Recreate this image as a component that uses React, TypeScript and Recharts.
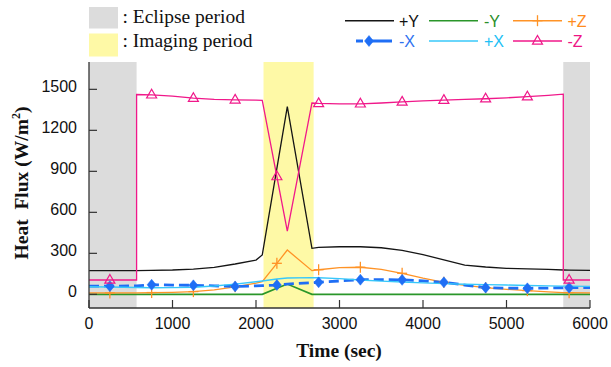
import React from 'react';
import { LineChart, Line, XAxis, YAxis, ReferenceArea } from 'recharts';

// ---------- data ----------
const time = [0, 250, 570, 570, 750, 1000, 1250, 1500, 1750, 2000, 2075, 2250, 2375, 2670, 2750, 3000, 3250, 3500, 3750, 4000, 4250, 4500, 4750, 5000, 5250, 5500, 5680, 5680, 5750, 6000];
const plusY = [173, 173, 173, 173, 175, 178, 185, 198, 222, 251, 288, 921, 1373, 337, 343, 348, 348, 341, 322, 290, 252, 214, 200, 190, 186, 182, 178, 178, 177, 175];
const minusY = [0, 0, 0, 0, 0, 0, 0, 0, 0, 0, 0, 44, 75, 0, 0, 0, 0, 0, 0, 0, 0, 0, 0, 0, 0, 0, 0, 0, 0, 0];
const plusZ = [10, 10, 11, 11, 13, 15, 20, 32, 55, 82, 92, 227, 324, 173, 180, 196, 198, 182, 154, 118, 88, 65, 49, 37, 27, 18, 13, 13, 12, 10];
const minusX = [60, 60, 62, 62, 70, 68, 66, 62, 58, 62, 64, 68, 75, 85, 88, 98, 107, 108, 106, 98, 88, 68, 49, 45, 44, 46, 48, 48, 49, 50];
const plusX = [55, 54, 50, 50, 48, 49, 52, 61, 75, 92, 98, 112, 120, 122, 121, 115, 105, 97, 90, 84, 78, 74, 71, 68, 65, 62, 60, 60, 60, 58];
const minusZ = [105, 105, 105, 1462, 1460, 1450, 1435, 1427, 1423, 1421, 1420, 862, 463, 1400, 1397, 1394, 1394, 1400, 1408, 1415, 1421, 1426, 1431, 1438, 1446, 1456, 1465, 105, 105, 105];

const markerTimes = [250, 750, 1250, 1750, 2250, 2750, 3250, 3750, 4250, 4750, 5250, 5750];
const xTicks = [0, 1000, 2000, 3000, 4000, 5000, 6000];
const yTicks = [0, 300, 600, 900, 1200, 1500];
const eclipsePeriods = [[0, 570], [5680, 6000]];
const imagingPeriod = [2090, 2690];

const data = time.map((t, i) => ({
  time: t,
  plusY: plusY[i],
  minusY: minusY[i],
  plusZ: plusZ[i],
  minusX: minusX[i],
  plusX: plusX[i],
  minusZ: minusZ[i],
}));

type Kind = 'plus' | 'diamond' | 'triangle' | null;

const series: { key: string; name: string; color: string; textColor: string; width: number; dash?: string; marker: Kind; row: number; col: number }[] = [
  { key: 'plusY', name: '+Y', color: '#151515', textColor: '#111111', width: 1.3, marker: null, row: 0, col: 0 },
  { key: 'minusY', name: '-Y', color: '#2a962a', textColor: '#2a8f2a', width: 1.7, marker: null, row: 0, col: 1 },
  { key: 'plusZ', name: '+Z', color: '#ff9326', textColor: '#ff8c1e', width: 1.3, marker: 'plus', row: 0, col: 2 },
  { key: 'minusX', name: '-X', color: '#1f6ef5', textColor: '#2f72f0', width: 2.8, dash: '10 5', marker: 'diamond', row: 1, col: 0 },
  { key: 'plusX', name: '+X', color: '#38c8fa', textColor: '#22c0f5', width: 1.4, marker: null, row: 1, col: 1 },
  { key: 'minusZ', name: '-Z', color: '#f0188a', textColor: '#ee1585', width: 1.3, marker: 'triangle', row: 1, col: 2 },
];

const SANS = "'Liberation Sans', Arial, sans-serif";
const SERIF = "'Liberation Serif', 'Times New Roman', serif";
const FRAME = '#333333';

function MarkerShape({ kind, cx, cy, color }: { kind: Kind; cx: number; cy: number; color: string }) {
  if (kind === 'plus') {
    return (
      <g>
        <line x1={cx - 5} y1={cy} x2={cx + 5} y2={cy} stroke={color} strokeWidth={1.3} />
        <line x1={cx} y1={cy - 5.5} x2={cx} y2={cy + 5.5} stroke={color} strokeWidth={1.3} />
      </g>
    );
  }
  if (kind === 'diamond') {
    return <polygon points={`${cx},${cy - 5.5} ${cx + 4.5},${cy} ${cx},${cy + 5.5} ${cx - 4.5},${cy}`} fill={color} stroke={color} strokeWidth={0.5} />;
  }
  if (kind === 'triangle') {
    return <polygon points={`${cx},${cy - 5.5} ${cx + 5},${cy + 3.2} ${cx - 5},${cy + 3.2}`} fill="none" stroke={color} strokeWidth={1.2} />;
  }
  return <g />;
}

function makeDot(kind: Kind, color: string) {
  return (props: any) => {
    const { cx, cy, payload, index } = props;
    if (!kind || !payload || !markerTimes.includes(payload.time) || cx == null || cy == null) {
      return <g key={`d-${index}`} />;
    }
    return (
      <g key={`d-${index}`}>
        <MarkerShape kind={kind} cx={cx} cy={cy} color={color} />
      </g>
    );
  };
}

const XTick = (props: any) => {
  const { x, y, payload } = props;
  return (
    <text x={x} y={y + 28.5} textAnchor="middle" fontFamily={SANS} fontSize={16} fill="#111">
      {payload.value}
    </text>
  );
};

const YTick = (props: any) => {
  const { x, y, payload } = props;
  return (
    <text x={x - 20} y={y + 3} textAnchor="end" fontFamily={SANS} fontSize={16} fill="#111">
      {payload.value}
    </text>
  );
};

const NoTick = () => <g />;

const legendLineStart = [345, 429, 513];
const legendLineEnd = [394, 478, 562];
const legendTextX = [399, 484, 567.5];
const legendRowY = [20.7, 41];

function Overlay() {
  return (
    <svg width={611} height={367} style={{ position: 'absolute', left: 0, top: 0, pointerEvents: 'none' }}>
      {/* period legend */}
      <rect x={89} y={7} width={29} height={21.5} fill="#dcdcdc" />
      <text x={122.5} y={23} fontFamily={SERIF} fontSize={19.5} fill="#111">: Eclipse period</text>
      <rect x={89} y={33.5} width={29} height={23} fill="#fef9a6" />
      <text x={122.5} y={46.5} fontFamily={SERIF} fontSize={19.5} fill="#111">: Imaging period</text>

      {/* series legend */}
      {series.map((s) => {
        const y = legendRowY[s.row];
        const x1 = s.key === 'minusX' ? 356 : legendLineStart[s.col];
        const x2 = s.key === 'minusX' ? 392 : legendLineEnd[s.col];
        const mx = s.key === 'minusX' ? 369 : (x1 + x2) / 2;
        return (
          <g key={s.key}>
            <line x1={x1} y1={y} x2={x2} y2={y} stroke={s.color} strokeWidth={s.key === 'minusX' ? 2.8 : 1.4}
              strokeDasharray={s.key === 'minusX' ? '7 4 40' : undefined} />
            {s.marker && <MarkerShape kind={s.marker} cx={mx} cy={y} color={s.color} />}
            <text x={legendTextX[s.col]} y={y + 6} fontFamily={SANS} fontSize={16} fill={s.textColor}>{s.name}</text>
          </g>
        );
      })}

      {/* axis titles */}
      <text x={339} y={357} textAnchor="middle" fontFamily={SERIF} fontWeight="bold" fontSize={19.5} fill="#111">Time (sec)</text>
      <text transform="translate(27.5,183) rotate(-90)" textAnchor="middle" fontFamily={SERIF} fontWeight="bold" fontSize={19.5} fill="#111" style={{ whiteSpace: 'pre' }}>
        {'Heat  Flux (W/m'}
        <tspan fontSize={12} dy={-8}>2</tspan>
        <tspan dy={8}>)</tspan>
      </text>
    </svg>
  );
}

export default function App() {
  return (
    <div style={{ position: 'absolute', left: 0, top: 0, width: 611, height: 367, background: '#fff' }}>
      <LineChart width={611} height={367} data={data} margin={{ top: 62, right: 21, bottom: 29, left: 0 }}>
        {eclipsePeriods.map(([a, b], i) => (
          <ReferenceArea key={`ecl-${i}`} x1={a} x2={b} fill="#dcdcdc" fillOpacity={1} stroke="none" ifOverflow="hidden" />
        ))}
        <ReferenceArea x1={imagingPeriod[0]} x2={imagingPeriod[1]} fill="#fef9a6" fillOpacity={1} stroke="none" ifOverflow="hidden" />
        <XAxis dataKey="time" type="number" domain={[0, 6000]} ticks={xTicks} height={30} tickSize={-8} tickMargin={0}
          axisLine={{ stroke: FRAME, strokeWidth: 1.3 }} tickLine={{ stroke: FRAME, strokeWidth: 1.2 }} tick={XTick} interval={0} allowDataOverflow />
        <XAxis xAxisId="top" orientation="top" dataKey="time" type="number" domain={[0, 6000]} ticks={xTicks} height={0} tickSize={-8}
          axisLine={{ stroke: FRAME, strokeWidth: 1.3 }} tickLine={{ stroke: FRAME, strokeWidth: 1.2 }} tick={NoTick} interval={0} allowDataOverflow />
        <YAxis type="number" domain={[-100, 1700]} ticks={yTicks} width={89} tickSize={-8} tickMargin={0}
          axisLine={{ stroke: FRAME, strokeWidth: 1.3 }} tickLine={{ stroke: FRAME, strokeWidth: 1.2 }} tick={YTick} interval={0} allowDataOverflow />
        <YAxis yAxisId="right" orientation="right" type="number" domain={[-100, 1700]} ticks={yTicks} width={0} tickSize={-8}
          axisLine={{ stroke: FRAME, strokeWidth: 1.3 }} tickLine={{ stroke: FRAME, strokeWidth: 1.2 }} tick={NoTick} interval={0} allowDataOverflow />
        {series.map((s) => (
          <Line key={s.key} dataKey={s.key} name={s.name} type="linear" stroke={s.color} strokeWidth={s.width}
            strokeDasharray={s.dash} dot={makeDot(s.marker, s.color)} activeDot={false}
            isAnimationActive={false} legendType="none" />
        ))}
      </LineChart>
      <Overlay />
    </div>
  );
}
